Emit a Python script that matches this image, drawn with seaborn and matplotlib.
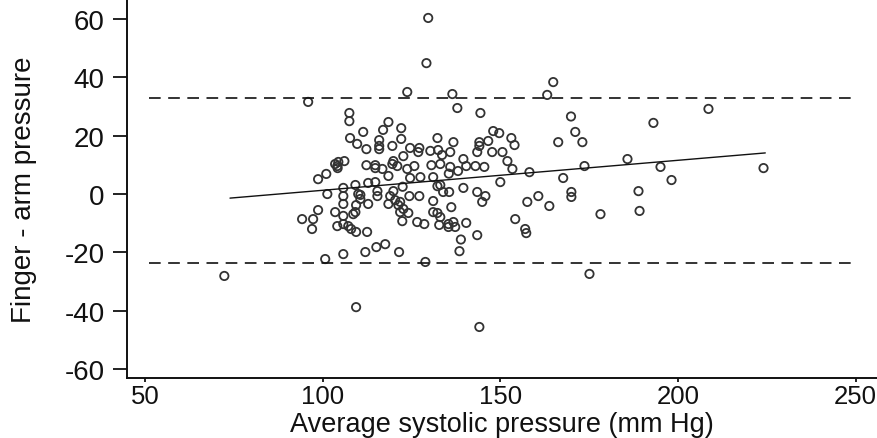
import matplotlib
matplotlib.use("Agg")
import matplotlib.pyplot as plt
import seaborn as sns
import pandas as pd

# Average systolic pressure (mm Hg) and finger - arm pressure difference
avg_sbp = [
    72.3, 95.9, 100.7, 109.4, 129.7, 129.2, 123.8, 136.5, 137.9, 144.4,
    163.2, 164.9, 144.1, 128.9, 175.1, 208.6, 224.1, 193.1, 198.2, 195.1,
    189.2, 188.9, 185.8, 178.2, 169.9, 171.1, 173.1, 166.3, 173.7, 167.7,
    170.0, 170.0, 107.5, 107.5, 118.5, 111.4, 117.0, 122.1, 107.7, 109.7,
    115.9, 112.3, 115.9, 115.9, 119.6, 122.1, 124.6, 127.2, 132.3, 136.8,
    130.3, 132.5, 133.6, 135.9, 144.1, 144.1, 146.6, 148.0, 149.7, 153.1,
    154.0, 150.6, 147.7, 143.5, 152.0, 153.4, 139.6, 140.4, 145.5, 143.0,
    138.1, 130.6, 133.1, 135.9, 125.8, 123.8, 122.7, 126.9, 119.9, 119.6,
    121.0, 116.8, 114.8, 112.3, 106.1, 104.1, 104.4, 103.5, 104.2, 101.0,
    98.7, 118.5, 124.6, 127.5, 131.1, 114.8, 112.8, 109.2, 105.8, 122.5,
    132.3, 133.1, 139.6, 143.5, 150.0, 158.2, 110.6, 110.6, 115.4, 115.4,
    105.8, 105.8, 109.4, 112.8, 119.0, 119.9, 120.4, 121.8, 124.4, 127.2,
    131.1, 133.9, 135.6, 136.2, 144.9, 145.8, 160.7, 157.6, 163.8, 108.6,
    105.8, 121.3, 118.5, 122.7, 124.1, 121.8, 131.1, 132.3, 133.1, 122.4,
    126.6, 128.6, 132.8, 135.4, 136.8, 137.3, 135.4, 140.4, 143.5, 154.2,
    157.0, 157.3, 105.8, 108.0, 109.4, 112.5, 138.9, 138.5, 117.6, 115.1,
    112.0, 121.5, 105.8, 110.0, 98.7, 103.5, 109.2, 94.2, 97.3, 97.0,
    104.1, 107.2, 101.3, 135.5, 114.8,
]
diff = [
    -28.1, 31.6, -22.3, -38.8, 60.4, 44.9, 35.0, 34.3, 29.5, 27.8,
    34.0, 38.4, -45.6, -23.3, -27.4, 29.2, 8.9, 24.4, 4.8, 9.3,
    -5.8, 1.0, 12.0, -6.9, 26.6, 21.3, 17.8, 17.8, 9.6, 5.5,
    0.7, -1.0, 27.8, 25.0, 24.7, 21.3, 22.0, 22.6, 19.2, 17.2,
    18.5, 15.4, 16.5, 15.4, 16.5, 18.9, 15.8, 15.8, 19.2, 17.8,
    14.8, 15.1, 13.4, 14.4, 17.8, 16.5, 18.2, 21.6, 20.9, 19.2,
    16.8, 14.4, 14.4, 14.4, 11.3, 8.6, 12.0, 9.6, 9.3, 9.6,
    7.9, 9.9, 10.3, 9.3, 9.6, 8.6, 13.0, 14.4, 11.3, 10.3,
    9.6, 8.6, 9.9, 9.9, 11.3, 9.6, 11.0, 10.3, 8.9, 6.9,
    5.1, 6.2, 5.5, 5.8, 5.8, 4.1, 3.8, 3.1, 2.1, 2.5,
    2.7, 3.1, 2.1, 0.7, 4.1, 7.5, -0.3, -1.7, 1.0, -0.7,
    -0.7, -3.4, -3.8, -3.4, -0.7, 1.0, -2.1, -2.7, -0.7, -0.7,
    -2.4, 0.7, 0.7, -4.5, -2.7, -0.7, -0.7, -2.7, -4.1, -6.9,
    -7.5, -3.8, -3.4, -5.1, -6.5, -6.2, -6.2, -6.5, -7.9, -9.3,
    -9.6, -10.3, -10.6, -10.3, -9.6, -11.3, -11.3, -9.9, -14.1, -8.6,
    -12.0, -13.4, -10.3, -12.0, -13.0, -13.0, -15.6, -19.6, -17.2, -18.2,
    -19.9, -19.9, -20.6, 0.0, -5.5, -6.2, -6.2, -8.6, -8.6, -12.0,
    -11.0, -11.0, 0.0, 7.0, 8.9,
]

# fitted regression line end points and limits of agreement
fit_x = [73.9, 224.6]
fit_y = [-1.4, 14.1]
loa_x = [51, 249]
loa_upper = [33.0, 33.0]
loa_lower = [-23.6, -23.6]

x_ticks = [50, 100, 150, 200, 250]
y_ticks = [-60, -40, -20, 0, 20, 40, 60]

sns.set_theme(style="ticks")
plt.rcParams["font.family"] = ["Liberation Sans", "DejaVu Sans"]

df = pd.DataFrame({"avg": avg_sbp, "diff": diff})

fig = plt.figure(figsize=(8.77, 4.39), dpi=100)
ax = fig.add_axes([0.1448, 0.1367, 0.855, 0.8633])

sns.scatterplot(data=df, x="avg", y="diff", ax=ax, marker="o",
                facecolor="none", edgecolor="#333333", s=36, linewidth=1.3,
                legend=False)
sns.lineplot(x=fit_x, y=fit_y, ax=ax, color="#111111", linewidth=1.0)
for ys in (loa_upper, loa_lower):
    sns.lineplot(x=loa_x, y=ys, ax=ax, color="#111111", linewidth=1.2,
                 linestyle=(0, (7, 4.5)))

ax.set_xlim(44.9, 256)
ax.set_ylim(-63.1, 66.9)
ax.set_xticks(x_ticks)
ax.set_yticks(y_ticks)
ax.set_xticklabels([str(t) for t in x_ticks])
ax.set_yticklabels([str(t) for t in y_ticks])

ax.spines["top"].set_visible(False)
ax.spines["right"].set_visible(False)
for s in ("left", "bottom"):
    ax.spines[s].set_linewidth(1.4)
    ax.spines[s].set_color("#111111")

ax.tick_params(axis="y", length=10, width=1.3, labelsize=20, pad=6, colors="#111111")
ax.tick_params(axis="x", length=3, width=1.3, labelsize=18.5, pad=1, colors="#111111")

ax.set_xlabel("Average systolic pressure (mm Hg)", fontsize=19.5, color="#111111")
ax.xaxis.set_label_coords(0.5, -0.157)
ax.xaxis.label.set_verticalalignment("bottom")
ax.set_ylabel("Finger - arm pressure", fontsize=20, labelpad=20, color="#111111")

fig.savefig("out.png", dpi=100)
